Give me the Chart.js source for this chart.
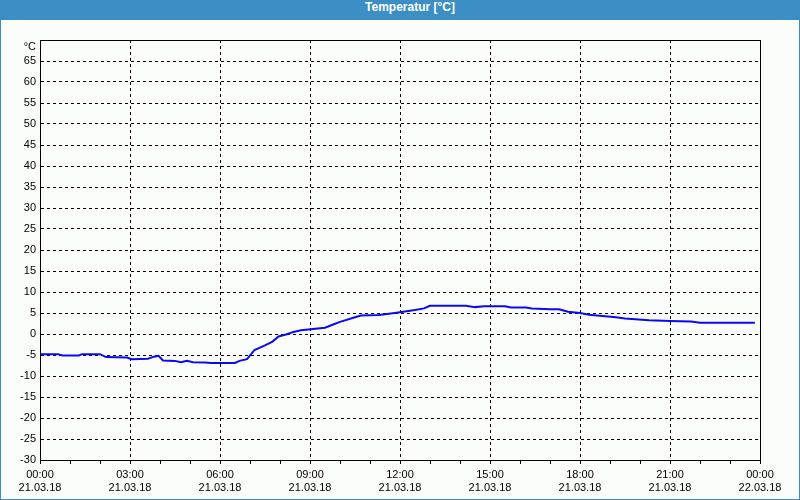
<!DOCTYPE html>
<html>
<head>
<meta charset="utf-8">
<script src="https://cdn.jsdelivr.net/npm/chart.js@4.4.0/dist/chart.umd.min.js"></script>
<style>
  html, body { margin: 0; padding: 0; background: #fbfdfb; }
  #frame {
    width: 800px; height: 500px; box-sizing: border-box;
    border: 1px solid #3b8fc5; border-top: none; background: #fbfdfb;
  }
  #title {
    height: 20px; line-height: 20px; background: #3b8fc5; color: #fff;
    font: bold 12px "Liberation Sans", Arial, sans-serif;
    text-align: center; padding-left: 20px; box-sizing: border-box;
  }
  #wrap { position: relative; width: 798px; height: 479px; }
</style>
</head>
<body>
<div id="frame">
  <div id="title">Temperatur [°C]</div>
  <div id="wrap"><canvas id="tempChart"></canvas></div>
</div>
<script>
// --- Data (hours since 21.03.18 00:00, temperature in °C) ---
const hours = [0, 0.6, 0.75, 1.3, 1.4, 2.0, 2.2, 2.9, 3.05, 3.6, 3.8, 3.95, 4.1, 4.5, 4.7, 4.9, 5.1, 5.5, 5.7,
  6.5, 6.65, 6.9, 7.15, 7.5, 7.75, 7.95, 8.2, 8.45, 8.7, 9.1, 9.5, 9.75, 10.0, 10.5, 10.7, 11.3, 11.7, 12.0,
  12.5, 12.8, 13.0, 14.2, 14.5, 14.8, 15.5, 15.7, 16.2, 16.4, 17.0, 17.3, 17.6, 18.0, 18.3, 19.2, 19.5,
  20.3, 21.0, 21.7, 22.0, 23.83];
const temps = [-4.8, -4.8, -5.1, -5.1, -4.8, -4.8, -5.5, -5.6, -6.0, -5.9, -5.4, -5.2, -6.3, -6.4, -6.7, -6.4, -6.7, -6.8, -6.9,
  -6.9, -6.4, -6.0, -3.8, -2.7, -1.8, -0.6, -0.1, 0.5, 0.9, 1.2, 1.5, 2.2, 2.9, 4.0, 4.4, 4.5, 4.9, 5.2,
  5.7, 6.1, 6.7, 6.7, 6.4, 6.6, 6.6, 6.3, 6.3, 6.1, 5.9, 5.9, 5.3, 5.0, 4.6, 4.0, 3.7,
  3.3, 3.1, 3.0, 2.7, 2.7];
const timeLabels = ['00:00', '03:00', '06:00', '09:00', '12:00', '15:00', '18:00', '21:00', '00:00'];
const dateLabels = ['21.03.18', '21.03.18', '21.03.18', '21.03.18', '21.03.18', '21.03.18', '21.03.18', '21.03.18', '22.03.18'];
const unitLabel = '°C';

const points = hours.map((h, i) => ({ x: h, y: temps[i] }));
const tickFont = { family: '"Liberation Sans", Arial, sans-serif', size: 11 };

// --- frame around the plot area (top and right edges) ---
const frameBox = {
  id: 'frameBox',
  afterDraw(chart) {
    const { ctx, chartArea: a } = chart;
    ctx.save();
    ctx.strokeStyle = '#000';
    ctx.lineWidth = 1;
    ctx.strokeRect(Math.round(a.left) + 0.5, Math.round(a.top) + 0.5,
      Math.round(a.right - a.left), Math.round(a.bottom - a.top));
    ctx.restore();
  }
};

const ctx = document.getElementById('tempChart').getContext('2d');
new Chart(ctx, {
  type: 'line',
  data: {
    datasets: [{
      data: points,
      borderColor: '#0a0af0',
      borderWidth: 2,
      pointRadius: 0,
      tension: 0,
      fill: false
    }]
  },
  options: {
    responsive: true,
    maintainAspectRatio: false,
    animation: false,
    layout: { padding: { left: 0, top: 20, right: 39, bottom: 0 } },
    plugins: { legend: { display: false }, tooltip: { enabled: false } },
    scales: {
      x: {
        type: 'linear', min: 0, max: 24,
        afterFit: (s) => { s.height = 39; },
        ticks: {
          stepSize: 1, autoSkip: false, maxRotation: 0, color: '#000', font: tickFont, padding: 4,
          callback: (v) => (v % 3 === 0 ? [timeLabels[v / 3], dateLabels[v / 3]] : '')
        },
        grid: {
          color: (c) => (c.tick && c.tick.value % 3 === 0 ? '#000' : 'rgba(0,0,0,0)'),
          tickColor: '#000', tickWidth: 1, tickLength: 4, tickBorderDash: [], drawTicks: true
        },
        border: { color: '#000', dash: [3, 3] }
      },
      y: {
        min: -30, max: 70,
        afterFit: (s) => { s.width = 39; },
        ticks: {
          stepSize: 5, autoSkip: false, color: '#000', font: tickFont, padding: 4,
          callback: (v) => (v === 70 ? ['', unitLabel] : v)
        },
        grid: { color: '#000', drawTicks: false },
        border: { color: '#000', dash: [3, 3] }
      }
    }
  },
  plugins: [frameBox]
});
</script>
</body>
</html>
